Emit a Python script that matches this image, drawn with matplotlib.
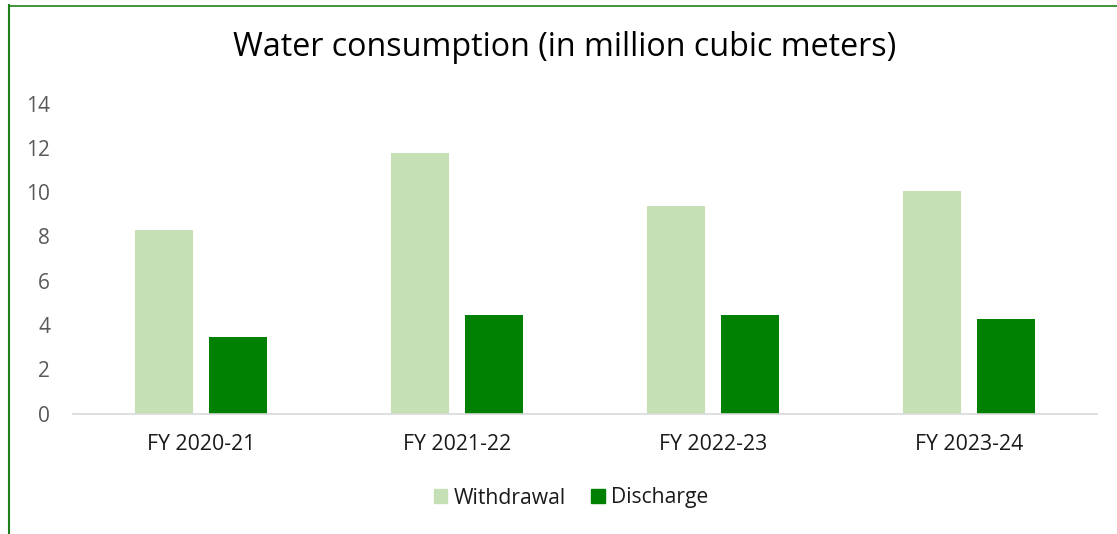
import matplotlib
matplotlib.use("Agg")
import matplotlib.pyplot as plt
import numpy as np
from matplotlib.patches import Patch
from matplotlib.lines import Line2D

categories = ["FY 2020-21", "FY 2021-22", "FY 2022-23", "FY 2023-24"]
withdrawal = [8.3, 11.75, 9.35, 10.05]
discharge = [3.45, 4.45, 4.45, 4.28]
yticks = [0, 2, 4, 6, 8, 10, 12, 14]
title = "Water consumption (in million cubic meters)"

plt.rcParams['font.family'] = ['Open Sans', 'DejaVu Sans']

W, H = 1117, 534
fig = plt.figure(figsize=(W / 100, H / 100), dpi=100)
ax = fig.add_axes([73 / W, 1 - 413.5 / H, (1097 - 73) / W, 310 / H])

x = np.arange(len(categories))
bw = 0.226
off = 0.143
ax.bar(x - off, withdrawal, bw, color="#C5E0B4", label="Withdrawal")
ax.bar(x + off, discharge, bw, color="#008000", label="Discharge")

ax.set_xlim(-0.5, len(categories) - 0.5)
ax.set_ylim(0, 14)
ax.set_yticks(yticks)
ax.set_yticklabels([str(t) for t in yticks], color="#595959", fontsize=15)
ax.set_xticks(x)
ax.set_xticklabels(categories, color="#1a1a1a", fontsize=15.3)
ax.tick_params(axis='both', length=0)
ax.tick_params(axis='y', pad=16.5)
ax.tick_params(axis='x', pad=15)
for s in ["top", "right", "left"]:
    ax.spines[s].set_visible(False)
ax.spines["bottom"].set_color("#D9D9D9")
ax.spines["bottom"].set_linewidth(1.2)

fig.text(565 / W, 1 - 48 / H, title, ha="center", va="center", fontsize=23.2, color="#000000")

leg = fig.legend(handles=[Patch(color="#C5E0B4", label="Withdrawal"),
                          Patch(color="#008000", label="Discharge")],
                 loc="center", bbox_to_anchor=(571 / W, 1 - 498 / H), ncol=2, frameon=False,
                 fontsize=15.2, handlelength=0.65, handleheight=0.65, handletextpad=0.3,
                 columnspacing=1.2)
for t in leg.get_texts():
    t.set_color("#1a1a1a")

# green frame lines (left and top)
fig.add_artist(Line2D([8.5 / W, 8.5 / W], [0, 1 - 5 / H], transform=fig.transFigure,
                      color="#1E8019", linewidth=1.5))
fig.add_artist(Line2D([8.5 / W, 1], [1 - 5.5 / H, 1 - 5.5 / H], transform=fig.transFigure,
                      color="#1E8019", linewidth=1.2))

fig.savefig("out.png", dpi=100, facecolor="white")
